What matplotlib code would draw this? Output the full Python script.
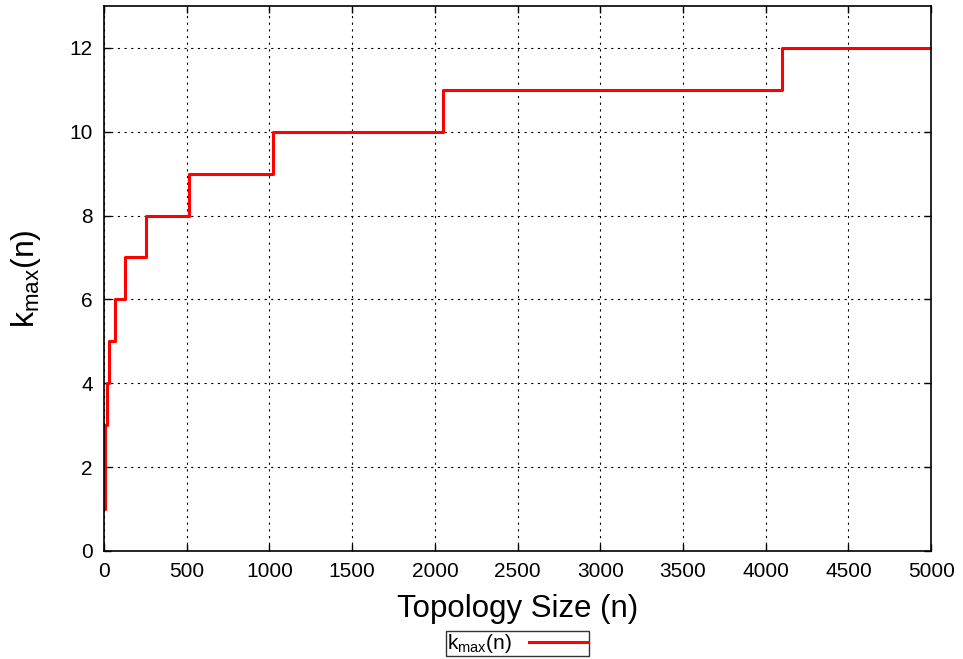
import matplotlib
matplotlib.use('Agg')
import matplotlib.pyplot as plt

plt.rcParams.update({
    'font.family': 'Liberation Sans',
    'font.size': 15,
    'axes.linewidth': 1.2,
})

# step breakpoints: topology size n and the k_max reached there
n_vals = [2, 4, 8, 16, 32, 64, 128, 256, 512, 1024, 2048, 4096, 5000]
k_vals = [1, 2, 3, 4, 5, 6, 7, 8, 9, 10, 11, 12, 12]

x_ticks = [0, 500, 1000, 1500, 2000, 2500, 3000, 3500, 4000, 4500, 5000]
y_ticks = [0, 2, 4, 6, 8, 10, 12]

fig = plt.figure(figsize=(9.63, 6.59), dpi=100)
ax = fig.add_axes([0.108, 0.164, 0.859, 0.827])

ax.step(n_vals, k_vals, where='post', color='#ff0000', linewidth=2.2,
        label=r'k$_{\mathregular{max}}$(n)')

ax.set_xlim(0, 5000)
ax.set_ylim(0, 13)
ax.set_xticks(x_ticks)
ax.set_yticks(y_ticks)
ax.tick_params(direction='in', length=5, width=1, labelsize=15, pad=8,
               top=True, right=True)
ax.grid(True, color='black', linestyle=(0, (2, 4)), linewidth=0.8)

ax.set_xlabel('Topology Size (n)', fontsize=22.5, labelpad=9)
ax.set_ylabel(r'k$_{\mathregular{max}}$(n)', fontsize=23, labelpad=19)

leg = fig.legend(loc='lower center', bbox_to_anchor=(0.5374, 3 / 659),
                 bbox_transform=fig.transFigure, ncol=1,
                 frameon=True, fancybox=False, fontsize=15, borderpad=0.05,
                 handlelength=2.8, markerfirst=False, handletextpad=0.8,
                 borderaxespad=0)
leg.get_frame().set_edgecolor('black')
leg.get_frame().set_linewidth(1.0)

fig.savefig('out.png', dpi=100)
